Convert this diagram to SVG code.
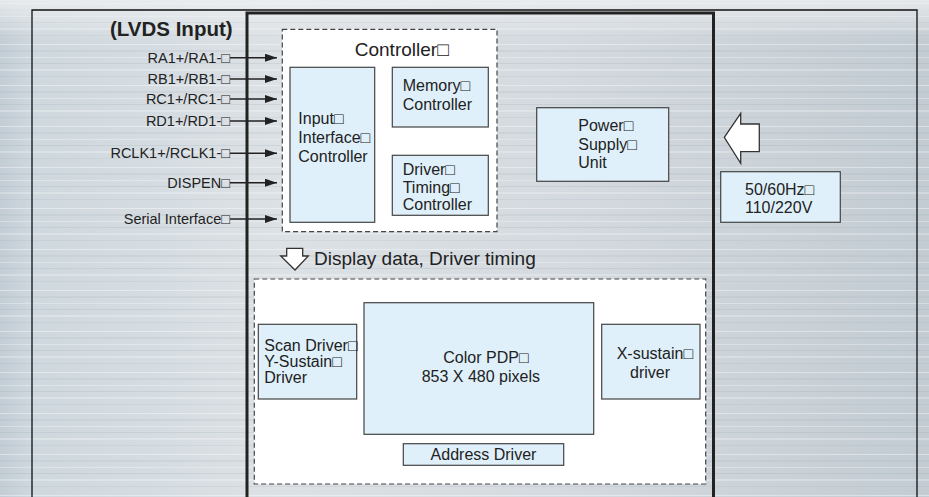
<svg xmlns="http://www.w3.org/2000/svg" width="929" height="497" viewBox="0 0 929 497">
  <defs>
    <style>
      text { font-family: "Liberation Sans", Arial, sans-serif; fill: #222; }
      .lbl { font-size: 14.5px; }
      .blk { font-size: 16px; }
      .big { font-size: 19px; }
      .box { fill: #dff0fa; stroke: #444; stroke-width: 1.2; }
      .dash { fill: #fff; stroke: #444; stroke-width: 1.2; stroke-dasharray: 5 3; }
      .conn { stroke: #222; stroke-width: 1.6; fill: none; }
      .hollow { fill: #fff; stroke: #333; stroke-width: 1.3; stroke-linejoin: miter; }
    </style>
    <marker id="ah" viewBox="0 0 12 8" refX="12" refY="4" markerWidth="12" markerHeight="8" markerUnits="userSpaceOnUse" orient="auto">
      <path d="M0,0 L12,4 L0,8 Z" fill="#222"/>
    </marker>
    <linearGradient id="bg" x1="0" y1="0" x2="1" y2="0">
      <stop offset="0" stop-color="#c3cdd5"/>
      <stop offset="0.035" stop-color="#cfd8de"/>
      <stop offset="0.3" stop-color="#dce1e5"/>
      <stop offset="0.6" stop-color="#d4dadf"/>
      <stop offset="0.85" stop-color="#cad1d7"/>
      <stop offset="1" stop-color="#c3ccd3"/>
    </linearGradient>
    <linearGradient id="topfade" x1="0" y1="0" x2="0" y2="1">
      <stop offset="0" stop-color="#eef0f2" stop-opacity="0.8"/>
      <stop offset="1" stop-color="#eef0f2" stop-opacity="0"/>
    </linearGradient>
    <pattern id="streak" x="0" y="0" width="929" height="41" patternUnits="userSpaceOnUse">
      <rect x="0" y="3" width="929" height="1" fill="#fff" opacity="0.4"/>
      <rect x="0" y="9" width="929" height="2" fill="#9aa6ae" opacity="0.15"/>
      <rect x="0" y="16" width="929" height="1" fill="#fff" opacity="0.3"/>
      <rect x="0" y="22" width="929" height="1" fill="#8d99a2" opacity="0.18"/>
      <rect x="0" y="28" width="929" height="2" fill="#fff" opacity="0.25"/>
      <rect x="0" y="35" width="929" height="1" fill="#96a2aa" opacity="0.15"/>
    </pattern>
  </defs>

  <!-- background -->
  <rect x="0" y="0" width="929" height="497" fill="url(#bg)"/>
  <rect x="0" y="0" width="929" height="497" fill="url(#streak)"/>
  <rect x="0" y="0" width="929" height="40" fill="url(#topfade)"/>

  <!-- outer frame -->
  <g id="outer-frame">
    <path d="M32,500 L32,10 L917,10 L917,500" fill="none" stroke="#111" stroke-width="1.3"/>
  </g>
  <!-- main panel -->
  <g id="panel">
    <path d="M247,500 L247,13 L713.5,13 L713.5,500" fill="none" stroke="#222" stroke-width="3"/>
  </g>

  <text x="110" y="36" font-size="20.5" font-weight="bold">(LVDS Input)</text>

  <!-- input labels -->
  <g id="inputs" class="lbl" text-anchor="end">
    <text x="230" y="62.7">RA1+/RA1-□</text>
    <text x="230" y="84">RB1+/RB1-□</text>
    <text x="230" y="104">RC1+/RC1-□</text>
    <text x="230" y="126">RD1+/RD1-□</text>
    <text x="230" y="158.3">RCLK1+/RCLK1-□</text>
    <text x="230" y="187.7">DISPEN□</text>
    <text x="230" y="224">Serial Interface□</text>
  </g>

  <!-- controller -->
  <g id="controller">
    <rect class="dash" x="282.3" y="29.3" width="214.7" height="202.4"/>
    <text class="big" x="401.7" y="56" text-anchor="middle">Controller□</text>
  </g>
  <g id="input-interface-controller">
    <rect class="box" x="290" y="67.3" width="84.7" height="155"/>
    <text class="blk" x="298.3" y="124">Input□</text>
    <text class="blk" x="298.3" y="143">Interface□</text>
    <text class="blk" x="298.3" y="162">Controller</text>
  </g>
  <g id="memory-controller">
    <rect class="box" x="392.3" y="67.3" width="96" height="59.7"/>
    <text class="blk" x="402.7" y="90.7">Memory□</text>
    <text class="blk" x="402.7" y="110">Controller</text>
  </g>
  <g id="driver-timing-controller">
    <rect class="box" x="392.3" y="155.3" width="96" height="60"/>
    <text class="blk" x="402.7" y="175">Driver□</text>
    <text class="blk" x="402.7" y="192.5">Timing□</text>
    <text class="blk" x="402.7" y="210">Controller</text>
  </g>

  <g id="power-supply-unit">
    <rect class="box" x="536.7" y="107.7" width="132" height="73.6"/>
    <text class="blk" x="578.3" y="130.7">Power□</text>
    <text class="blk" x="578.3" y="149.5">Supply□</text>
    <text class="blk" x="578.3" y="168.3">Unit</text>
  </g>

  <g id="ac-input">
    <rect class="box" x="720.7" y="171.7" width="119.6" height="50.6"/>
    <text class="blk" x="745" y="195">50/60Hz□</text>
    <text class="blk" x="745" y="213.3">110/220V</text>
  </g>

  <!-- display section -->
  <g id="display-section">
    <rect class="dash" x="254.3" y="279" width="451.4" height="205"/>
  </g>
  <g id="scan-driver">
    <rect class="box" x="258.3" y="324.3" width="98.4" height="74.7"/>
    <text class="blk" x="264.3" y="350.7">Scan Driver□</text>
    <text class="blk" x="264.3" y="366.7">Y-Sustain□</text>
    <text class="blk" x="264.3" y="382.7">Driver</text>
  </g>
  <g id="color-pdp">
    <rect class="box" x="364" y="302.7" width="229.7" height="131.6"/>
    <text class="blk" x="443.3" y="363.3">Color PDP□</text>
    <text class="blk" x="421.7" y="382.3">853 X 480 pixels</text>
  </g>
  <g id="x-sustain-driver">
    <rect class="box" x="601.7" y="324.3" width="98.3" height="74.7"/>
    <text class="blk" x="616.7" y="359">X-sustain□</text>
    <text class="blk" x="630" y="377.7">driver</text>
  </g>
  <g id="address-driver">
    <rect class="box" x="403.3" y="443.7" width="160.4" height="21.6"/>
    <text class="blk" x="483.5" y="460" text-anchor="middle">Address Driver</text>
  </g>

  <!-- connectors -->
  <g id="connectors">
    <line class="conn" x1="230" y1="57.7" x2="277" y2="57.7" marker-end="url(#ah)"/>
    <line class="conn" x1="230" y1="79" x2="277" y2="79" marker-end="url(#ah)"/>
    <line class="conn" x1="230" y1="99" x2="277" y2="99" marker-end="url(#ah)"/>
    <line class="conn" x1="230" y1="121" x2="277" y2="121" marker-end="url(#ah)"/>
    <line class="conn" x1="230" y1="153.3" x2="277" y2="153.3" marker-end="url(#ah)"/>
    <line class="conn" x1="230" y1="182.7" x2="277" y2="182.7" marker-end="url(#ah)"/>
    <line class="conn" x1="230" y1="219" x2="277" y2="219" marker-end="url(#ah)"/>
    <!-- hollow power arrow -->
    <path class="hollow" d="M724.3,137.3 L740.7,113.3 L740.7,124 L759.3,124 L759.3,151.7 L740.7,151.7 L740.7,163.3 Z"/>
    <!-- hollow down arrow -->
    <path class="hollow" d="M286.7,248.3 L302.7,248.3 L302.7,256 L308.3,256 L295,270 L280.7,256 L286.7,256 Z"/>
  </g>
  <text class="big" x="314" y="265">Display data, Driver timing</text>
</svg>
